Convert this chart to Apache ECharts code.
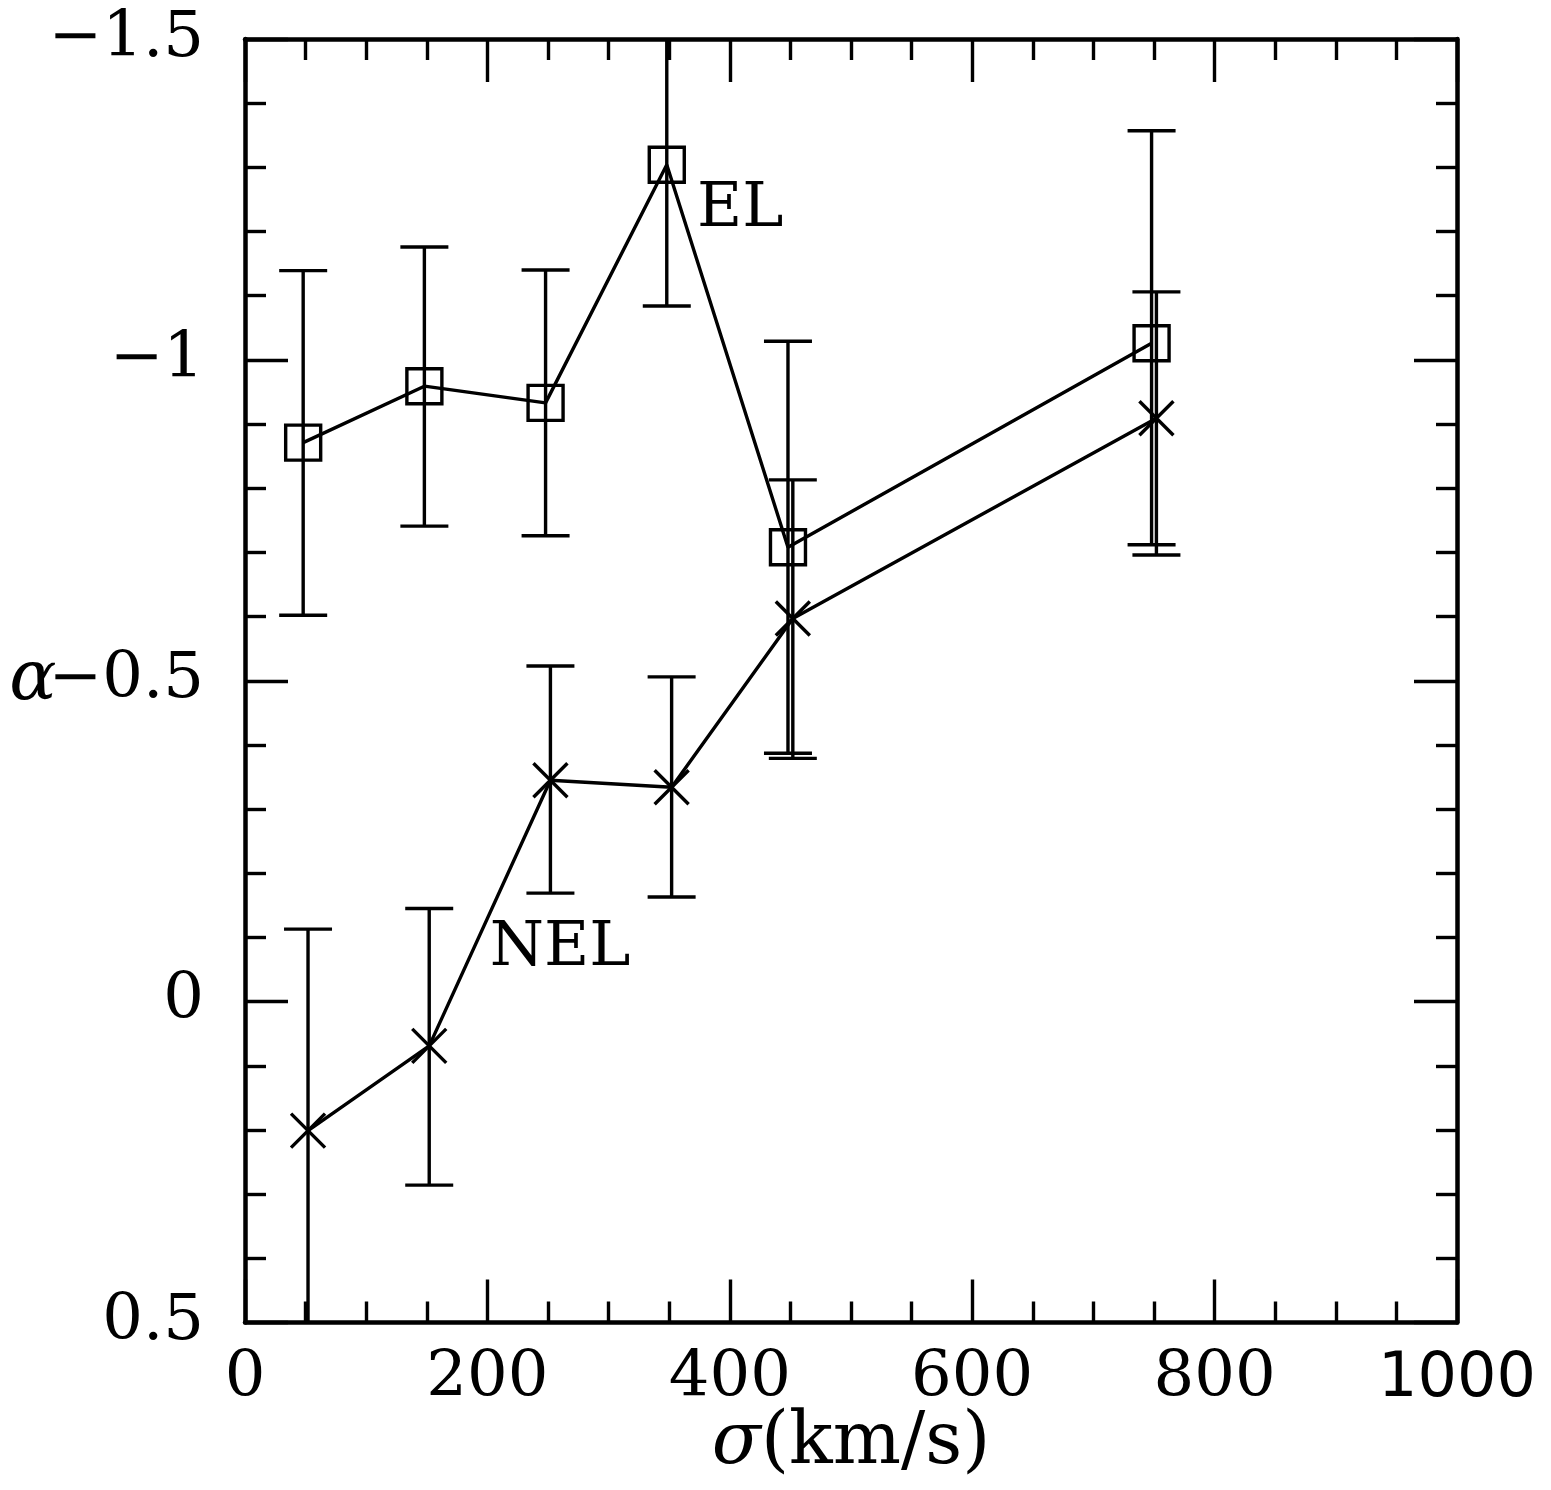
<!DOCTYPE html>
<html><head><meta charset="utf-8">
<script src="https://cdn.jsdelivr.net/npm/echarts@6/dist/echarts.min.js"></script>
<style>html,body{margin:0;padding:0;background:#fff}#c{width:1551px;height:1490px}</style>
</head><body><div id="c"></div>
<script>
// EL (emission-line) sample: sigma (km/s), alpha, error-bar ends
const elSigma = [48, 148, 248, 348, 448, 748];
const elAlpha = [-0.871, -0.959, -0.933, -1.304, -0.708, -1.026];
const elUpper = [-1.139, -1.176, -1.140, -1.56, -1.029, -1.357];
const elLower = [-0.602, -0.741, -0.726, -1.084, -0.387, -0.712];
// NEL (non-emission-line) sample
const nelSigma = [52, 152, 252, 352, 452, 752];
const nelAlpha = [0.201, 0.069, -0.345, -0.334, -0.597, -0.909];
const nelUpper = [-0.113, -0.145, -0.523, -0.506, -0.813, -1.106];
const nelLower = [0.56, 0.286, -0.169, -0.163, -0.379, -0.696];
// tick labels
const xTickLabels = {0:'0', 200:'200', 400:'400', 600:'600', 800:'800', 1000:'1000'};
const yTickLabels = {'-1.5':'\u22121.5', '-1':'\u22121', '-0.5':'\u22120.5', '0':'0', '0.5':'0.5'};
// annotations
const textLabels = [
  {name:'EL', sigma:373, alpha:-1.233},
  {name:'NEL', sigma:202, alpha:-0.082}
];

const SERIF = 'DejaVu Serif';
const chart = echarts.init(document.getElementById('c'), null, {renderer:'canvas'});

function errorBars(xs, lo, hi) {
  return {
    type:'custom', xAxisIndex:0, yAxisIndex:0, clip:true, silent:true, z:1,
    data: xs.map((x,i)=>[x, lo[i], hi[i]]),
    encode:{x:0, y:[1,2]},
    renderItem(params, api){
      const x = api.value(0);
      const p1 = api.coord([x, api.value(1)]);
      const p2 = api.coord([x, api.value(2)]);
      const hw = 24;
      const style = {stroke:'#000', lineWidth:3.4, fill:null};
      return {type:'group', children:[
        {type:'line', shape:{x1:p1[0], y1:p1[1], x2:p2[0], y2:p2[1]}, style},
        {type:'line', shape:{x1:p1[0]-hw, y1:p1[1], x2:p1[0]+hw, y2:p1[1]}, style},
        {type:'line', shape:{x1:p2[0]-hw, y1:p2[1], x2:p2[0]+hw, y2:p2[1]}, style}
      ]};
    }
  };
}

const axisLine = {show:true, onZero:false, lineStyle:{color:'#000', width:4.5}};
const xTick = {show:true, inside:true, length:43, lineStyle:{color:'#000', width:3.4}};
const xMinor = {show:true, splitNumber:4, length:21, lineStyle:{color:'#000', width:3.4}};
const yMinor = {show:true, splitNumber:5, length:21, lineStyle:{color:'#000', width:3.4}};

const xBase = {type:'value', min:0, max:1000, interval:200, axisLine, axisTick:xTick, minorTick:xMinor,
  splitLine:{show:false}, minorSplitLine:{show:false}};
const yBase = {type:'value', min:-1.5, max:0.5, interval:0.5, inverse:true, axisLine, axisTick:xTick, minorTick:yMinor,
  splitLine:{show:false}, minorSplitLine:{show:false}};

const option = {
  animation:false,
  backgroundColor:'#fff',
  grid:{left:245, top:39, right:94, bottom:167.5, containLabel:false, outerBoundsMode:'none'},
  xAxis:[
    Object.assign({}, xBase, {position:'bottom',
      name:'{i|σ}(km/s)', nameLocation:'middle', nameGap:122, nameMoveOverlap:false,
      nameTextStyle:{color:'#000', fontFamily:SERIF, fontSize:72, verticalAlign:'middle',
        rich:{i:{fontStyle:'italic', fontFamily:SERIF, fontSize:72, color:'#000'}}},
      axisLabel:{show:true, margin:57, verticalAlign:'middle', color:'#000', fontFamily:SERIF, fontSize:64,
        formatter:v => v === 1000 ? '{s|' + xTickLabels[v] + '}' : (xTickLabels[v] ?? ''),
        rich:{s:{fontFamily:'DejaVu Sans', fontSize:62, color:'#000', verticalAlign:'middle'}}}}),
    Object.assign({}, xBase, {position:'top', axisLabel:{show:false}})
  ],
  yAxis:[
    Object.assign({}, yBase, {position:'left',
      name:'α', nameLocation:'middle', nameGap:212, nameRotate:0, nameMoveOverlap:false,
      nameTextStyle:{color:'#000', fontFamily:SERIF, fontStyle:'italic', fontSize:70, align:'center', verticalAlign:'middle'},
      axisLabel:{show:true, margin:41, color:'#000', fontFamily:SERIF, fontSize:64,
        formatter:v => yTickLabels[String(v)] ?? ''}}),
    Object.assign({}, yBase, {position:'right', axisLabel:{show:false}})
  ],
  series:[
    errorBars(elSigma, elLower, elUpper),
    errorBars(nelSigma, nelLower, nelUpper),
    {type:'line', name:'EL', data: elSigma.map((x,i)=>[x, elAlpha[i]]), z:2,
      symbol:'rect', symbolSize:35,
      lineStyle:{color:'#000', width:3.4},
      itemStyle:{color:'rgba(0,0,0,0)', borderColor:'#000', borderWidth:3.4},
      markPoint:{symbol:'circle', symbolSize:0, silent:true,
        data:[{coord:[textLabels[0].sigma, textLabels[0].alpha], value:textLabels[0].name}],
        label:{show:true, position:'right', distance:0, formatter:textLabels[0].name, color:'#000', fontFamily:SERIF, fontSize:62}}},
    {type:'line', name:'NEL', data: nelSigma.map((x,i)=>[x, nelAlpha[i]]), z:2,
      symbol:'path://M0 0L10 10M10 0L0 10', symbolSize:34,
      lineStyle:{color:'#000', width:3.4},
      itemStyle:{color:'rgba(0,0,0,0)', borderColor:'#000', borderWidth:3.4},
      markPoint:{symbol:'circle', symbolSize:0, silent:true,
        data:[{coord:[textLabels[1].sigma, textLabels[1].alpha], value:textLabels[1].name}],
        label:{show:true, position:'right', distance:0, formatter:textLabels[1].name, color:'#000', fontFamily:SERIF, fontSize:62}}}
  ]
};
chart.setOption(option);
</script></body></html>
